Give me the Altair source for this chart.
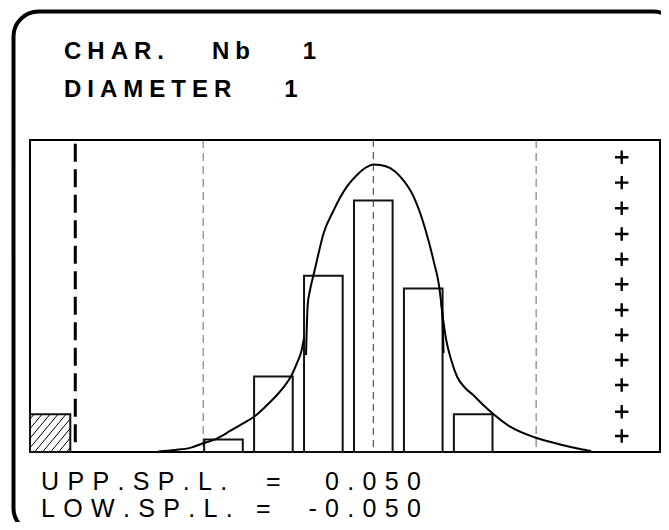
import altair as alt
import pandas as pd

# ---------------- values ----------------
title_words = [["CHAR.", "Nb", "1"], ["DIAMETER", "1"]]
limit_names = ["UPP.SP.L.", "LOW.SP.L."]
limit_values = [0.050, -0.050]            # mm
spec_lines_um = [-50.0, 50.0]             # spec limits drawn on the x scale (µm)
mean_um = 1.1

class_centers = [-43.9, -28.9, -13.9, 1.1, 16.1, 31.1]
class_counts = [1, 6, 14, 20, 13, 3]

below_range_span = [-102.0, -89.9]
below_range_count = 3

separator_x = -88.4
separator_y = [24.5, 0.55]

plus_x = 75.7
plus_y = [1.27, 3.20, 5.33, 7.31, 9.30, 11.29, 13.33, 15.32, 17.33, 19.37, 21.41, 23.43]

curve_left_x = [-63.5, -58.4, -53.9, -50.0, -46.4, -41.9, -38.0, -34.4, -31.4, -28.4,
                -26.0, -23.4, -21.8, -20.4, -19.7]
curve_left_y = [0.04, 0.16, 0.33, 0.69, 1.01, 1.67, 2.27, 2.86, 3.58, 4.37,
                5.09, 6.12, 7.08, 8.11, 9.06]
curve_mid_x = [-19.1, -18.9, -18.6, -17.9, -16.9, -15.8, -13.9, -10.9, -6.9, -3.8,
               -0.8, 1.1, 3.2, 6.2, 9.2, 13.2, 16.7, 19.2, 21.2, 21.9, 22.2]
curve_mid_y = [7.71, 9.70, 11.69, 12.88, 14.02, 15.26, 17.33, 19.16, 21.07, 22.02,
               22.66, 22.86, 22.82, 22.56, 21.89, 20.30, 17.73, 15.19, 12.48, 10.49, 7.87]
curve_right_x = [21.5, 22.1, 23.0, 24.5, 26.3, 28.7, 31.1, 33.8, 36.8, 42.2,
                 49.7, 57.2, 63.2, 66.5]
curve_right_y = [11.93, 10.49, 8.90, 7.31, 5.96, 5.09, 4.53, 3.82, 3.10, 2.01,
                 1.15, 0.60, 0.24, 0.08]

# ---------------- layout ----------------
X_DOMAIN = [-102.0, 87.2]
Y_DOMAIN = [0.0, 24.8]
W, H = 630, 312
BAR_HALF = 5.8
FONT = "Liberation Sans"
TITLE_SP = "\u2005"        # quarter-em letter spacing
FOOT_SP = "\u2004"         # third-em letter spacing

xs = alt.Scale(domain=X_DOMAIN, nice=False, zero=False)
ys = alt.Scale(domain=Y_DOMAIN, nice=False, zero=False)


def spaced(s, sp):
    return sp.join(s)


def spaced_words(words, gaps, sp):
    out = spaced(words[0], sp)
    for g, w in zip(gaps, words[1:]):
        out += g + spaced(w, sp)
    return out


def X(f):
    return alt.X(f, type="quantitative", scale=xs, axis=None)


def Y(f):
    return alt.Y(f, type="quantitative", scale=ys, axis=None)


one = alt.Data(values=[{"k": 0}])

# frame
frame = alt.Chart(one).mark_rect(
    cornerRadius=25, fill="white", fillOpacity=0, stroke="black", strokeWidth=4
).encode(x=alt.value(-16.5), x2=alt.value(648), y=alt.value(-128.5), y2=alt.value(393))

# histogram bars
bars_df = pd.DataFrame({"c": class_centers, "n": class_counts})
bars_df["x0"] = bars_df["c"] - BAR_HALF
bars_df["x1"] = bars_df["c"] + BAR_HALF
bars_df["z"] = 0.0
bars = alt.Chart(bars_df).mark_rect(fill="white", stroke="#111", strokeWidth=2).encode(
    x=X("x0"), x2="x1", y=Y("n"), y2="z"
)

# below-range (hatched) bar
br_df = pd.DataFrame({"x0": [below_range_span[0]], "x1": [below_range_span[1]],
                      "n": [below_range_count], "z": [0.0]})
br = alt.Chart(br_df).mark_rect(fill="white", stroke="#111", strokeWidth=2).encode(
    x=X("x0"), x2="x1", y=Y("n"), y2="z"
)


def hatch_segments(x0, x1, y0, y1, step=8.0, slope=1.2):
    px_x = W / (X_DOMAIN[1] - X_DOMAIN[0])
    px_y = H / (Y_DOMAIN[1] - Y_DOMAIN[0])
    w = (x1 - x0) * px_x
    h = (y1 - y0) * px_y
    rows = []
    k = -h / slope + step / 2
    while k < w:
        u0 = max(0.0, k)
        u1 = min(w, k + h / slope)
        if u1 > u0:
            rows.append({"hx": x0 + u0 / px_x, "hy": y0 + slope * (u0 - k) / px_y,
                         "hx2": x0 + u1 / px_x, "hy2": y0 + slope * (u1 - k) / px_y})
        k += step
    return pd.DataFrame(rows)


hatch = alt.Chart(hatch_segments(below_range_span[0], below_range_span[1], 0.0,
                                 below_range_count)).mark_rule(
    color="black", strokeWidth=1
).encode(x=X("hx"), y=Y("hy"), x2="hx2", y2="hy2")

# spec-limit dashed lines
lim = alt.Chart(pd.DataFrame({"x": spec_lines_um})).mark_rule(
    color="#666", strokeWidth=1, strokeDash=[8, 5]
).encode(x=X("x"))

mean = alt.Chart(pd.DataFrame({"x": [mean_um]})).mark_rule(
    color="#333", strokeWidth=1, strokeDash=[7, 5]
).encode(x=X("x"))

sep = alt.Chart(pd.DataFrame({"x": [separator_x], "y": [separator_y[0]],
                              "y2": [separator_y[1]]})).mark_rule(
    color="black", strokeWidth=3, strokeDash=[18, 7.5]
).encode(x=X("x"), y=Y("y"), y2="y2")

# fitted curve (three pieces)
pieces = []
for name, xv, yv in [("left", curve_left_x, curve_left_y),
                     ("mid", curve_mid_x, curve_mid_y),
                     ("right", curve_right_x, curve_right_y)]:
    for i, (a, b) in enumerate(zip(xv, yv)):
        pieces.append({"piece": name, "o": i, "x": a, "y": b})
curve = alt.Chart(pd.DataFrame(pieces)).mark_line(
    color="black", strokeWidth=2, interpolate="monotone"
).encode(x=X("x"), y=Y("y"), detail="piece:N", order="o:Q")

# plus markers
plus = alt.Chart(pd.DataFrame({"x": [plus_x] * len(plus_y), "y": plus_y})).mark_point(
    shape="M-1,0H1M0,-1V1", size=180, filled=False, stroke="black", strokeWidth=2.4, opacity=1
).encode(x=X("x"), y=Y("y"))

# texts
title_text = [
    spaced_words(title_words[0], ["\u2003\u2003", "\u2003\u2003\u2009"], TITLE_SP),
    spaced_words(title_words[1], ["\u2003\u2003\u2009"], TITLE_SP),
]
t1 = alt.Chart(one).mark_text(align="left", baseline="alphabetic", font=FONT, fontSize=24,
                              fontWeight="bold", color="black").encode(
    x=alt.value(34), y=alt.value(-80.7), text=alt.value(title_text[0]))
t2 = alt.Chart(one).mark_text(align="left", baseline="alphabetic", font=FONT, fontSize=24,
                              fontWeight="bold", color="black").encode(
    x=alt.value(34), y=alt.value(-43.3), text=alt.value(title_text[1]))

foot_layers = []
for i, (nm, val) in enumerate(zip(limit_names, limit_values)):
    yb = 350 + i * 26.7
    foot_layers.append(alt.Chart(one).mark_text(
        align="left", baseline="alphabetic", font=FONT, fontSize=25, color="black").encode(
        x=alt.value(11), y=alt.value(yb), text=alt.value(spaced(nm, FOOT_SP))))
    foot_layers.append(alt.Chart(one).mark_text(
        align="left", baseline="alphabetic", font=FONT, fontSize=25, color="black").encode(
        x=alt.value(236 - i * 10), y=alt.value(yb), text=alt.value("=")))
    foot_layers.append(alt.Chart(one).mark_text(
        align="right", baseline="alphabetic", font=FONT, fontSize=25, color="black").encode(
        x=alt.value(391), y=alt.value(yb), text=alt.value(spaced(f"{val:.3f}", FOOT_SP))))

chart = alt.layer(
    frame, lim, br, hatch, bars, mean, sep, curve, plus, t1, t2, *foot_layers
).properties(
    width=W, height=H,
    autosize=alt.AutoSizeParams(type="none"),
    padding={"left": 22, "top": 132, "right": 1, "bottom": 70},
    background="white",
).configure_view(stroke="black", strokeWidth=2)

chart.save("out.html", embed_options={"renderer": "svg", "actions": False})
